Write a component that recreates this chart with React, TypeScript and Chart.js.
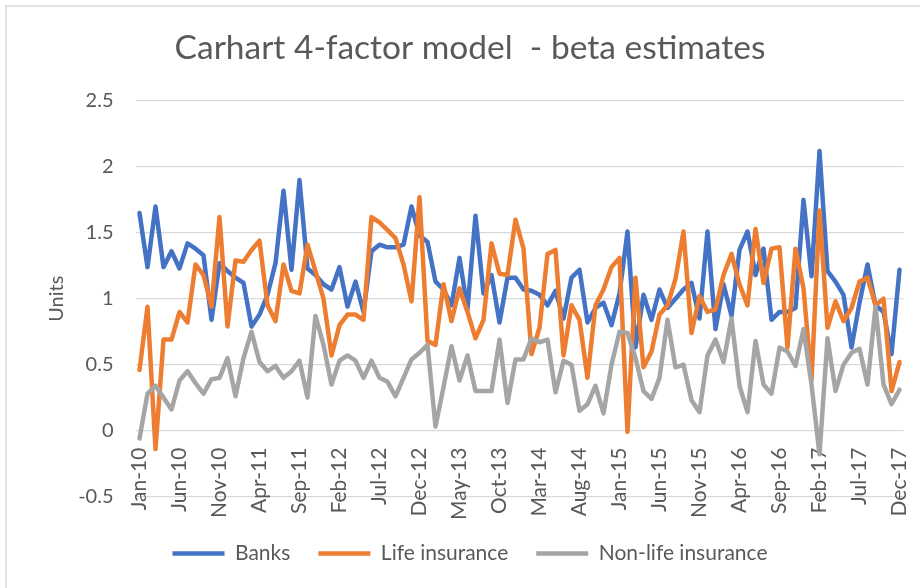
import React, { useEffect, useRef } from 'react';
import { Chart, registerables } from 'chart.js';

Chart.register(...registerables);

const MONTHS = ['Jan', 'Feb', 'Mar', 'Apr', 'May', 'Jun', 'Jul', 'Aug', 'Sep', 'Oct', 'Nov', 'Dec'];
const YEARS = ['10', '11', '12', '13', '14', '15', '16', '17'];
const CATEGORIES = YEARS.flatMap((y) => MONTHS.map((m) => `${m}-${y}`));
const LABEL_EVERY = 5;

const TITLE = 'Carhart 4-factor model  - beta estimates';
const Y_TITLE = 'Units';
const SERIES_NAMES = ['Banks', 'Life insurance', 'Non-life insurance'];
const SERIES_COLORS = ['#4472C4', '#ED7D31', '#A5A5A5'];

const BANKS = [
  1.65, 1.24, 1.70, 1.24, 1.36, 1.23, 1.42, 1.38, 1.33, 0.84, 1.27, 1.21,
  1.16, 1.12, 0.79, 0.88, 1.03, 1.27, 1.82, 1.22, 1.90, 1.23, 1.18, 1.11,
  1.07, 1.24, 0.94, 1.13, 0.90, 1.36, 1.41, 1.39, 1.39, 1.41, 1.70, 1.48,
  1.43, 1.13, 1.07, 0.95, 1.31, 0.92, 1.63, 1.04, 1.18, 0.82, 1.16, 1.16,
  1.07, 1.06, 1.03, 0.95, 1.06, 0.85, 1.16, 1.22, 0.82, 0.93, 0.97, 0.80,
  1.04, 1.51, 0.63, 1.03, 0.84, 1.07, 0.93, 1.00, 1.07, 1.12, 0.85, 1.51,
  0.77, 1.11, 0.87, 1.37, 1.51, 1.18, 1.38, 0.84, 0.90, 0.90, 0.93, 1.75,
  1.17, 2.12, 1.21, 1.13, 1.03, 0.63, 0.97, 1.26, 0.95, 0.90, 0.58, 1.22,
];

const LIFE = [
  0.46, 0.94, -0.14, 0.69, 0.69, 0.90, 0.82, 1.26, 1.18, 0.94, 1.62, 0.79,
  1.29, 1.28, 1.37, 1.44, 0.95, 0.83, 1.26, 1.06, 1.04, 1.41, 1.21, 1.00,
  0.57, 0.80, 0.88, 0.88, 0.84, 1.62, 1.58, 1.52, 1.46, 1.26, 0.98, 1.77,
  0.68, 0.65, 1.11, 0.83, 1.08, 0.90, 0.70, 0.84, 1.42, 1.19, 1.18, 1.60,
  1.38, 0.58, 0.78, 1.34, 1.37, 0.57, 0.95, 0.84, 0.40, 0.95, 1.07, 1.24,
  1.31, -0.01, 1.16, 0.48, 0.60, 0.88, 0.95, 1.15, 1.51, 0.74, 1.02, 0.90,
  0.92, 1.18, 1.34, 1.11, 0.95, 1.53, 1.12, 1.38, 1.39, 0.63, 1.38, 1.08,
  0.38, 1.67, 0.78, 0.98, 0.83, 0.93, 1.13, 1.16, 0.95, 1.00, 0.30, 0.52,
];

const NON_LIFE = [
  -0.06, 0.28, 0.34, 0.25, 0.16, 0.38, 0.45, 0.36, 0.28, 0.39, 0.40, 0.55,
  0.26, 0.55, 0.75, 0.52, 0.45, 0.49, 0.40, 0.45, 0.53, 0.25, 0.87, 0.65,
  0.35, 0.53, 0.57, 0.53, 0.40, 0.53, 0.40, 0.37, 0.26, 0.40, 0.54, 0.59,
  0.65, 0.03, 0.33, 0.64, 0.38, 0.57, 0.30, 0.30, 0.30, 0.69, 0.21, 0.54,
  0.54, 0.70, 0.67, 0.69, 0.29, 0.53, 0.50, 0.15, 0.20, 0.34, 0.13, 0.50,
  0.75, 0.74, 0.55, 0.30, 0.24, 0.40, 0.84, 0.48, 0.50, 0.23, 0.14, 0.57,
  0.69, 0.52, 0.85, 0.34, 0.14, 0.68, 0.35, 0.28, 0.63, 0.60, 0.49, 0.77,
  0.35, -0.18, 0.70, 0.30, 0.50, 0.59, 0.62, 0.35, 0.94, 0.35, 0.20, 0.31,
];

const SERIES = [BANKS, LIFE, NON_LIFE];
const Y_MIN = -0.5;
const Y_MAX = 2.5;
const Y_STEP = 0.5;

const FONT = 'Lato';
const TEXT_COLOR = '#595959';
const GRID_COLOR = '#d9d9d9';

export default function App() {
  const canvasRef = useRef<HTMLCanvasElement | null>(null);

  useEffect(() => {
    document.body.style.margin = '0';
    document.body.style.overflow = 'hidden';
    const canvas = canvasRef.current;
    if (!canvas) return;

    const chart = new Chart(canvas, {
      type: 'line',
      data: {
        labels: CATEGORIES,
        datasets: SERIES.map((data, i) => ({
          label: SERIES_NAMES[i],
          data,
          borderColor: SERIES_COLORS[i],
          backgroundColor: SERIES_COLORS[i],
          borderWidth: 4.5,
          pointRadius: 0,
          pointHoverRadius: 0,
          tension: 0,
          borderCapStyle: 'round',
          borderJoinStyle: 'round',
          order: SERIES.length - i,
          xAxisID: 'x',
          yAxisID: 'y',
        })),
      },
      options: {
        animation: false,
        responsive: false,
        maintainAspectRatio: false,
        devicePixelRatio: 1,
        events: [],
        layout: { padding: { left: 20, right: 0, top: 0, bottom: 14 } },
        plugins: {
          tooltip: { enabled: false },
          title: {
            display: true,
            text: TITLE,
            color: TEXT_COLOR,
            font: { family: FONT, size: 33.5, weight: 'normal', lineHeight: 1.2 },
            padding: { top: 28, bottom: 32.8 },
          },
          legend: {
            position: 'bottom',
            title: {
              display: true,
              text: '',
              font: { family: FONT, size: 10, lineHeight: 1 },
              padding: { top: 8.5, bottom: 0 },
            },
            labels: {
              usePointStyle: true,
              pointStyle: 'line',
              pointStyleWidth: 52,
              padding: 28,
              color: TEXT_COLOR,
              font: { family: FONT, size: 21 },
              sort: (a: any, b: any) => a.datasetIndex - b.datasetIndex,
            },
          },
        },
        scales: {
          x: {
            type: 'category',
            position: { y: 0 } as any,
            offset: true,
            grid: { display: false, drawTicks: false },
            border: { display: false },
            ticks: {
              autoSkip: false,
              minRotation: 90,
              maxRotation: 90,
              padding: 17,
              color: TEXT_COLOR,
              font: { family: FONT, size: 21 },
              callback: (_v: any, i: number) => (i % LABEL_EVERY === 0 ? CATEGORIES[i] : ''),
            },
            afterFit: (s: any) => {
              s.paddingLeft = 0;
              s.paddingRight = 0;
            },
          },
          y: {
            type: 'linear',
            position: 'left',
            min: Y_MIN,
            max: Y_MAX,
            ticks: {
              stepSize: Y_STEP,
              padding: 22,
              color: TEXT_COLOR,
              font: { family: FONT, size: 20 },
              callback: (v: any) => String(Math.round(Number(v) * 10) / 10),
            },
            grid: { color: GRID_COLOR, lineWidth: 1.3, drawTicks: false },
            border: { display: false },
            title: {
              display: true,
              text: Y_TITLE,
              color: TEXT_COLOR,
              font: { family: FONT, size: 20 },
              padding: { top: 25, bottom: 0 },
            },
            afterFit: (s: any) => {
              s.width = 115.5;
            },
          },
          yRight: {
            type: 'linear',
            position: 'right',
            display: true,
            ticks: { display: false },
            grid: { display: false, drawTicks: false },
            border: { display: false },
            afterFit: (s: any) => {
              s.width = 16.5;
            },
          },
        },
      } as any,
    });

    return () => chart.destroy();
  }, []);

  return (
    <div style={{ position: 'relative', width: 920, height: 588, overflow: 'hidden', background: '#fff' }}>
      <div
        style={{
          position: 'absolute',
          left: 5,
          top: 5,
          width: 1000,
          height: 1000,
          borderTop: '2px solid #e2e2e2',
          borderLeft: '2px solid #e2e2e2',
        }}
      />
      <canvas ref={canvasRef} width={920} height={588} style={{ position: 'absolute', left: 0, top: 0 }} />
    </div>
  );
}
